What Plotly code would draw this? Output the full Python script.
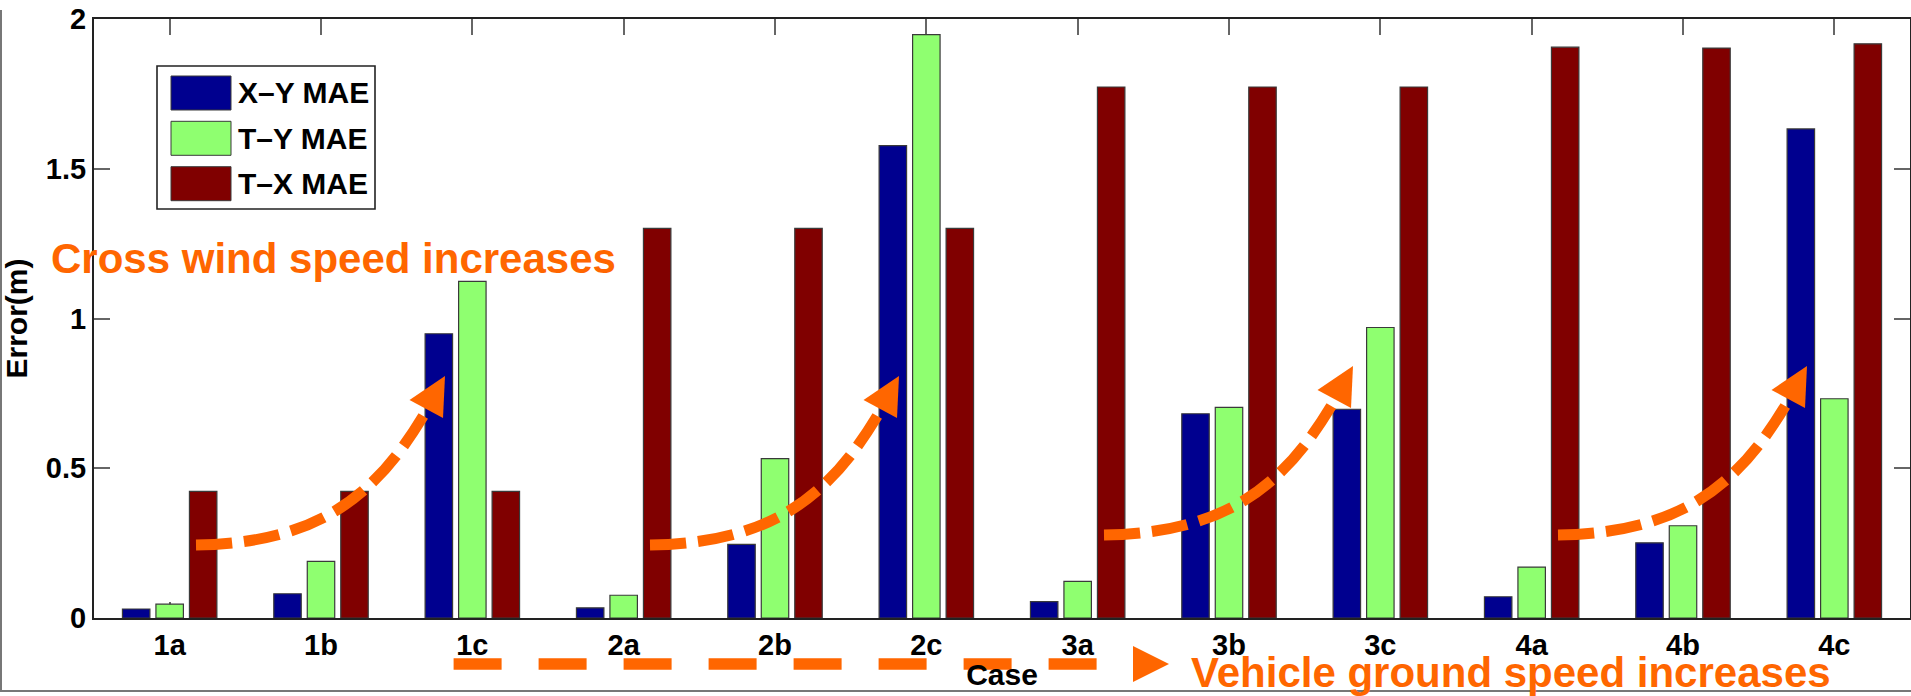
import plotly.graph_objects as go

# ---- data -------------------------------------------------------------
cases = ["1a", "1b", "1c", "2a", "2b", "2c", "3a", "3b", "3c", "4a", "4b", "4c"]
xy_mae = [0.030, 0.081, 0.949, 0.034, 0.246, 1.577, 0.055, 0.682, 0.697, 0.071, 0.251, 1.633]
ty_mae = [0.046, 0.189, 1.124, 0.076, 0.532, 1.948, 0.122, 0.703, 0.970, 0.170, 0.308, 0.732]
tx_mae = [0.423, 0.423, 0.423, 1.301, 1.301, 1.301, 1.773, 1.773, 1.773, 1.906, 1.903, 1.917]
series_names = ["X\u2013Y MAE", "T\u2013Y MAE", "T\u2013X MAE"]
y_tick_vals = [0, 0.5, 1, 1.5, 2]
y_tick_text = ["0", "0.5", "1", "1.5", "2"]

# ---- styling ----------------------------------------------------------
series_colors = ["#00008F", "#8FFF70", "#800000"]
ORANGE = "#FF6600"
FONT = "Liberation Sans"

W, H = 1911, 696
L, R, T, B = 94, 1, 19, 78
PW, PH = W - L - R, H - T - B


def X(px):
    """pixel column -> paper x"""
    return (px - L) / PW


def Y(py):
    """pixel row -> paper y"""
    return (H - B - py) / PH


fig = go.Figure()
for name, vals, col in zip(series_names, [xy_mae, ty_mae, tx_mae], series_colors):
    fig.add_trace(go.Bar(
        x=cases, y=vals, name=name,
        marker=dict(color=col, line=dict(color="#3a3a3a", width=1.2)),
        showlegend=False,
    ))

shapes = []

# frame around the whole figure (left and bottom edges)
shapes.append(dict(type="line", xref="paper", yref="paper",
                   x0=X(1), x1=X(1), y0=Y(10), y1=Y(691),
                   line=dict(color="#777777", width=2)))
shapes.append(dict(type="line", xref="paper", yref="paper",
                   x0=X(0), x1=X(W), y0=Y(691), y1=Y(691),
                   line=dict(color="#777777", width=2)))

# legend box with colour swatches
shapes.append(dict(type="rect", xref="paper", yref="paper",
                   x0=X(157), x1=X(375), y0=Y(66), y1=Y(209),
                   fillcolor="white", line=dict(color="#222222", width=1.6)))
row_centers = [93, 138.3, 183.7]
for rc, col in zip(row_centers, series_colors):
    shapes.append(dict(type="rect", xref="paper", yref="paper",
                       x0=X(171), x1=X(231), y0=Y(rc - 17), y1=Y(rc + 17),
                       fillcolor=col, line=dict(color="#3a3a3a", width=1)))

annotations = []
for rc, name in zip(row_centers, series_names):
    annotations.append(dict(xref="paper", yref="paper", x=X(236), y=Y(rc),
                            xanchor="left", yanchor="middle", showarrow=False,
                            text=name,
                            font=dict(family=FONT, size=30, color="black", weight="bold")))


# curved dashed arrows: one per speed group, shifted by three categories
def curve_arrow(dx, dy):
    p = [(196, 545), (325, 543), (380, 490), (428, 408)]
    p = [(a + dx, b + dy) for a, b in p]
    path = "M {},{} C {},{} {},{} {},{}".format(
        X(p[0][0]), Y(p[0][1]), X(p[1][0]), Y(p[1][1]),
        X(p[2][0]), Y(p[2][1]), X(p[3][0]), Y(p[3][1]))
    shapes.append(dict(type="path", xref="paper", yref="paper", path=path,
                       line=dict(color=ORANGE, width=11, dash="36px,12px")))
    head = [(445, 376), (409.5, 400), (443, 418)]
    head = [(a + dx, b + dy) for a, b in head]
    hp = "M {},{} L {},{} L {},{} Z".format(
        X(head[0][0]), Y(head[0][1]), X(head[1][0]), Y(head[1][1]),
        X(head[2][0]), Y(head[2][1]))
    shapes.append(dict(type="path", xref="paper", yref="paper", path=hp,
                       fillcolor=ORANGE, line=dict(color=ORANGE, width=0)))


step = PW / len(cases)
curve_arrow(0, 0)
curve_arrow(3 * step, 0)
curve_arrow(6 * step, -10)
curve_arrow(9 * step, -10)

# long horizontal dashed arrow under the axis
shapes.append(dict(type="line", xref="paper", yref="paper",
                   x0=X(453.6), x1=X(1098), y0=Y(664), y1=Y(664),
                   line=dict(color=ORANGE, width=11.5, dash="48px,37px")))
tri = "M {},{} L {},{} L {},{} Z".format(X(1133), Y(646), X(1169), Y(664), X(1133), Y(682))
shapes.append(dict(type="path", xref="paper", yref="paper", path=tri,
                   fillcolor=ORANGE, line=dict(color=ORANGE, width=0)))

annotations.append(dict(xref="paper", yref="paper", x=X(49), y=Y(258),
                        xanchor="left", yanchor="middle", showarrow=False,
                        text="Cross wind speed increases",
                        font=dict(family=FONT, size=42, color=ORANGE, weight="bold")))
annotations.append(dict(xref="paper", yref="paper", x=X(1189), y=Y(672.5),
                        xanchor="left", yanchor="middle", showarrow=False,
                        text="Vehicle ground speed increases",
                        font=dict(family=FONT, size=42, color=ORANGE, weight="bold")))

axis_common = dict(
    showline=True, linecolor="#222222", linewidth=2, mirror="allticks",
    ticks="inside", ticklen=16, tickwidth=1.5, tickcolor="#666666",
    showgrid=False, zeroline=False, layer="below traces",
    tickfont=dict(family=FONT, size=29, color="black", weight="bold"),
)

fig.update_layout(
    width=W, height=H,
    margin=dict(l=L, r=R, t=T, b=B, autoexpand=False),
    paper_bgcolor="white", plot_bgcolor="white",
    barmode="group", bargap=0.336, bargroupgap=0.18,
    shapes=shapes, annotations=annotations,
    xaxis=dict(
        **axis_common,
        type="category", range=[-0.5, len(cases) - 0.5],
        title=dict(text="Case", standoff=4,
                   font=dict(family=FONT, size=30, color="black", weight="bold")),
    ),
    yaxis=dict(
        **axis_common,
        range=[0, 2], tickvals=y_tick_vals, ticktext=y_tick_text,
        title=dict(text="Error(m)", standoff=12,
                   font=dict(family=FONT, size=30, color="black", weight="bold")),
    ),
)

fig.write_html("out.html")
